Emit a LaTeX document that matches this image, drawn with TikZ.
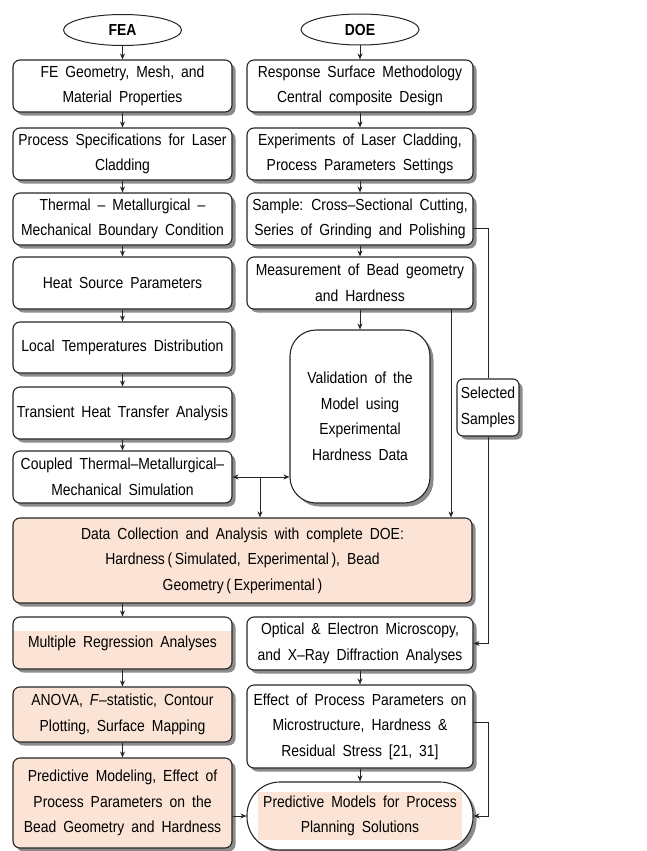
\documentclass[tikz,border=0pt]{standalone}
\usepackage{fontspec}
\setmainfont{Liberation Sans}[FakeStretch=0.87]
\usetikzlibrary{shapes.geometric,arrows.meta}
\definecolor{peach}{HTML}{FBE4D5}
\newcommand\fs{\fontsize{16}{25.5}\selectfont}
\tikzset{
  box/.style={draw=black!85, line width=1.1pt, rounded corners=7pt, fill=white,
    preaction={draw=none, fill=black!45, transform canvas={xshift=3.5pt,yshift=-3.5pt}},
    font=\fs, align=center, inner xsep=2pt, inner ysep=2pt,
    execute at begin node={\spaceskip=7pt\relax}},
  Lbox/.style={box, text width=215pt},
  Rbox/.style={box, text width=222pt},
  pk/.style={fill=peach},
  oval/.style={ellipse, draw=black!85, line width=1pt, fill=white, minimum width=118pt,
    minimum height=31pt, inner sep=0pt, font=\fs\bfseries},
  arr/.style={draw=black!85, line width=0.9pt, -{Stealth[length=6pt,width=5pt,inset=2pt]}},
  arrb/.style={draw=black!85, line width=0.9pt, {Stealth[length=6pt,width=5pt,inset=2pt]}-{Stealth[length=6pt,width=5pt,inset=2pt]}},
  ln/.style={draw=black!85, line width=0.9pt}
}
\begin{document}
\begin{tikzpicture}[x=1pt,y=-1pt]
\useasboundingbox (0,0) rectangle (647,851);
% heads
\node[oval] (fea) at (122.5,30) {FEA};
\node[oval] (doe) at (360,29.5) {DOE};
% left column
\node[Lbox, minimum height=52pt] (b1) at (122.5,86) {FE Geometry, Mesh, and\\Material Properties};
\node[Lbox, minimum height=52pt] (b2) at (122.5,154) {Process Specifications for Laser\\Cladding};
\node[Lbox, minimum height=52pt] (b3) at (122.5,219) {Thermal – Metallurgical –\\Mechanical Boundary Condition};
\node[Lbox, minimum height=52pt] (b4) at (122.5,283) {Heat Source Parameters};
\node[Lbox, minimum height=51pt] (b5) at (122.5,347.5) {Local Temperatures Distribution};
\node[Lbox, minimum height=52pt] (b6) at (122.5,413) {Transient Heat Transfer Analysis};
\node[Lbox, minimum height=52pt] (b7) at (122.5,477) {Coupled Thermal–Metallurgical–\\Mechanical Simulation};
% right column
\node[Rbox, minimum height=52pt] (r1) at (360,86) {Response Surface Methodology\\Central composite Design};
\node[Rbox, minimum height=52pt] (r2) at (360,154) {Experiments of Laser Cladding,\\Process Parameters Settings};
\node[Rbox, minimum height=52pt] (r3) at (360,219) {Sample: Cross–Sectional Cutting,\\Series of Grinding and Polishing};
\node[Rbox, minimum height=52pt] (r4) at (360,283) {Measurement of Bead geometry\\and Hardness};
\node[box, rounded corners=26pt, text width=136pt, minimum height=173pt] (val) at (360,416.5) {Validation of the\\Model using\\Experimental\\Hardness Data};
\node[box, rounded corners=6pt, text width=58pt, minimum height=57pt, inner xsep=2pt] (sel) at (488,407.5) {Selected\\Samples};
% data
\node[box, pk, text width=455pt, minimum height=85pt] (data) at (242.5,560.5) {Data Collection and Analysis with complete DOE:\\Hardness\,(\,Simulated, Experimental\,), Bead\\Geometry\,(\,Experimental\,)};
% bottom
\node[Lbox, minimum height=52pt, path picture={\fill[peach, sharp corners] (path picture bounding box.south west) rectangle ([yshift=-14pt]path picture bounding box.north east);}] (mr) at (122.5,643) {Multiple Regression Analyses};
\node[Rbox, minimum height=53pt] (opt) at (360,643.5) {Optical \& Electron Microscopy,\\and X–Ray Diffraction Analyses};
\node[Lbox, pk, minimum height=55pt] (an) at (122.5,714.5) {ANOVA, \textit{F}–statistic, Contour\\Plotting, Surface Mapping};
\node[Rbox, minimum height=83pt] (eff) at (360,726.5) {Effect of Process Parameters on\\Microstructure, Hardness \&\\Residual Stress [21, 31]};
\node[Lbox, pk, minimum height=90pt] (pmod) at (122.5,803) {Predictive Modeling, Effect of\\Process Parameters on the\\Bead Geometry and Hardness};
\node[Rbox, rounded corners=33pt, minimum height=68pt, path picture={\fill[peach, sharp corners] ([xshift=11pt,yshift=10pt]path picture bounding box.south west) rectangle ([xshift=-11pt,yshift=-10pt]path picture bounding box.north east);}] (pms) at (360,816) {Predictive Models for Process\\Planning Solutions};
% connectors
\draw[arr] (fea) -- (b1);
\draw[arr] (b1) -- (b2);
\draw[arr] (b2) -- (b3);
\draw[arr] (b3) -- (b4);
\draw[arr] (b4) -- (b5);
\draw[arr] (b5) -- (b6);
\draw[arr] (b6) -- (b7);
\draw[arr] (doe) -- (r1);
\draw[arr] (r1) -- (r2);
\draw[arr] (r2) -- (r3);
\draw[arr] (r3) -- (r4);
\draw[arr] (r4) -- (val);
\draw[arrb] (b7.east) -- (val.west |- b7.east);
\coordinate (j) at (260,477);
\draw[arr] (j) -- (j |- data.north);
\coordinate (m) at (451,309);
\draw[arr] (m) -- (m |- data.north);
\coordinate (s) at (473,228);
\draw[ln] (s) -| (sel.north);
\draw[arr] (sel.south) |- (opt.east);
\draw[arr] (data.south -| b1) -- (mr);
\draw[arr] (mr) -- (an);
\draw[arr] (an) -- (pmod);
\draw[arr] (opt) -- (eff);
\draw[arr] (eff) -- (pms);
\draw[arr] (pmod.east |- pms.west) -- (pms.west);
\coordinate (e) at (473,722);
\draw[arr] (e) -- (e -| sel.south) |- (pms.east);
\end{tikzpicture}
\end{document}
